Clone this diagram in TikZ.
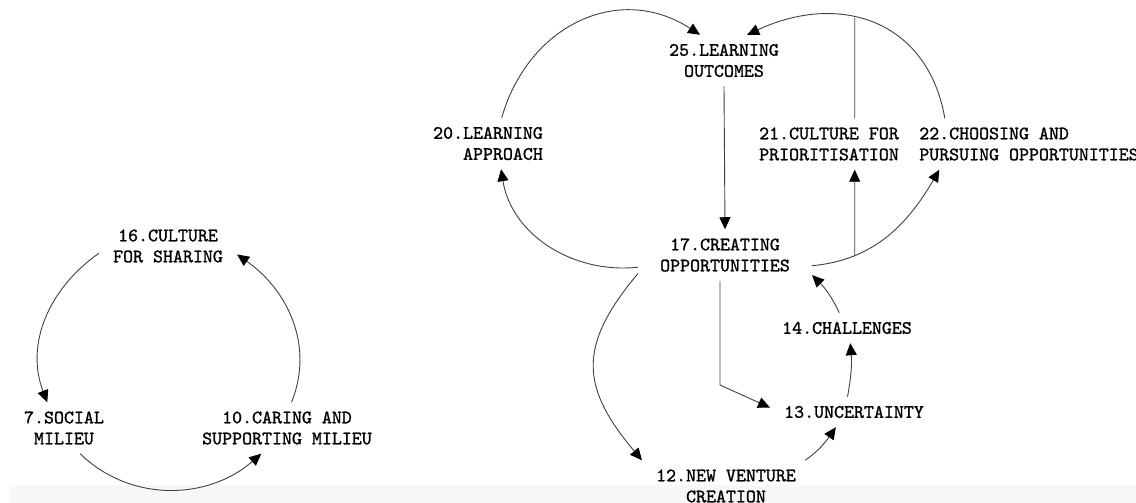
\documentclass[tikz,border=0pt]{standalone}
\usepackage{fontspec}
\newfontfamily\varfont{lmmono10-regular.otf}[FakeBold=1.2]
\usetikzlibrary{arrows.meta,intersections}
\begin{document}
\begin{tikzpicture}[x=1pt, y=-1pt,
            var/.style = {align=center, inner xsep=14pt, inner ysep=9pt,
                font=\varfont\fontsize{19}{21}\selectfont},
            link/.style = {draw=black!75, line width=0.9pt},
            arr/.style = {link, -{Triangle[length=12pt, width=11pt, color=black]}}]

            \useasboundingbox (0,0) rectangle (1136,503);
            \fill[black!3] (10,485) rectangle (1136,503);

            \node[var] (n16) at (168,246) {16.CULTURE\\FOR SHARING};
            \node[var] (n7) at (64,428) {7.SOCIAL\\MILIEU};
            \node[var] (n10) at (287,428) {10.CARING AND\\SUPPORTING MILIEU};

            \draw[arr] (n16.186) to[out=215, in=111] (n7.123);
            \draw[arr] (n7.-58) to[out=316, in=221] (n10.225);
            \draw[arr] (n10.80) to[out=68, in=-35] (n16.-7);

            \node[var] (n25) at (724,60.5) {25.LEARNING\\OUTCOMES};
            \node[var, align=right] (n20) at (488,143.5) {20.LEARNING\\APPROACH};
            \node[var, inner xsep=22pt] (n17) at (725,255) {17.CREATING\\OPPORTUNITIES};
            \node[var] (n21) at (829,144) {21.CULTURE FOR\\PRIORITISATION};
            \node[var, align=left] (n22) at (1029,144) {22.CHOOSING AND\\PURSUING OPPORTUNITIES};
            \node[var] (n14) at (847,328) {14.CHALLENGES};
            \node[var] (n13) at (854,412) {13.UNCERTAINTY};
            \node[var] (n12) at (726,486) {12.NEW VENTURE\\CREATION};
            \coordinate (bend13) at (720,385);

            \draw[arr] (n25.south) -- (n17.north);
            \draw[arr] (n20.62) to[out=74, in=147, looseness=1.15] (n25.133);
            \draw[arr] (n17.188) to[out=186, in=279] (n20.-63);
            \draw[arr, name path=arc22] (n22.163) to[out=100, in=25, looseness=1.2] (n25.48);
            \draw[arr, name path=arc17] (n17.-7) to[out=5, in=240] (n22.196);

            \path[name path=up21] (n21.45) -- +(0,-150);
            \path[name path=down21] (n21.-45) -- +(0,150);
            \draw[link, name intersections={of=up21 and arc22, by=top21}] (n21.45) -- (top21);
            \draw[arr, name intersections={of=down21 and arc17, by=foot21}] (foot21) -- (n21.-45);

            \draw[arr] (n17.192) to[out=230, in=130, looseness=1.3] (n12.163);
            \draw[arr] (n17.south -| bend13) -- (bend13) -- (n13.177);
            \draw[arr] (n12.18) to[out=35, in=235] (n13.220);
            \draw[arr] (n13.113) to[out=80, in=-85] (n14.-78);
            \draw[arr] (n14.117) to[out=115, in=-45] (n17.-13);

        \end{tikzpicture}
\end{document}
